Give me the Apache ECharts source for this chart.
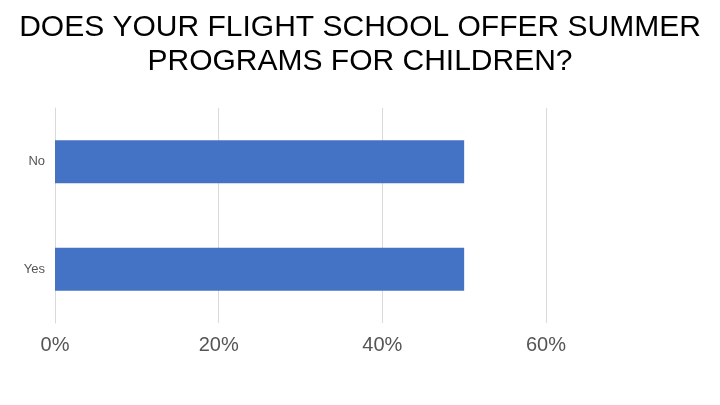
<!DOCTYPE html>
<html>
<head>
<meta charset="utf-8">
<script src="https://cdn.jsdelivr.net/npm/echarts@6/dist/echarts.min.js"></script>
<style>
  html, body { margin: 0; padding: 0; background: #fff; }
  #main { width: 720px; height: 405px; }
</style>
</head>
<body>
<div id="main"></div>
<script>
// data
var categories = ['Yes', 'No'];
var percentValues = [50, 50];
var tickLabels = ['0%', '20%', '40%', '60%'];

var chart = echarts.init(document.getElementById('main'));

var option = {
  animation: false,
  title: {
    text: 'DOES YOUR FLIGHT SCHOOL OFFER SUMMER\nPROGRAMS FOR CHILDREN?',
    left: 'center',
    top: 6,
    textStyle: {
      fontFamily: 'Liberation Sans',
      fontWeight: 'normal',
      fontSize: 30,
      lineHeight: 34,
      color: '#000'
    }
  },
  grid: {
    left: 55,
    right: 174,
    top: 108,
    bottom: 82
  },
  xAxis: {
    type: 'value',
    min: 0,
    max: 60,
    interval: 20,
    axisLine: { show: false },
    axisTick: { show: false },
    splitLine: { lineStyle: { color: '#d9d9d9', width: 1 } },
    axisLabel: {
      margin: 12,
      fontFamily: 'Liberation Sans',
      fontSize: 20,
      color: '#555'
    },
    // tick text comes from tickLabels
    show: true
  },
  yAxis: {
    type: 'category',
    data: categories,
    axisLine: { show: true, lineStyle: { color: '#d9d9d9' } },
    axisTick: { show: false },
    axisLabel: {
      margin: 10,
      fontFamily: 'Liberation Sans',
      fontSize: 13,
      color: '#555'
    }
  },
  series: [{
    type: 'bar',
    data: percentValues,
    barWidth: 43,
    itemStyle: { color: '#4472c4' }
  }]
};

option.xAxis.axisLabel.formatter = function (v) { return tickLabels[v / 20]; };

chart.setOption(option);
</script>
</body>
</html>
